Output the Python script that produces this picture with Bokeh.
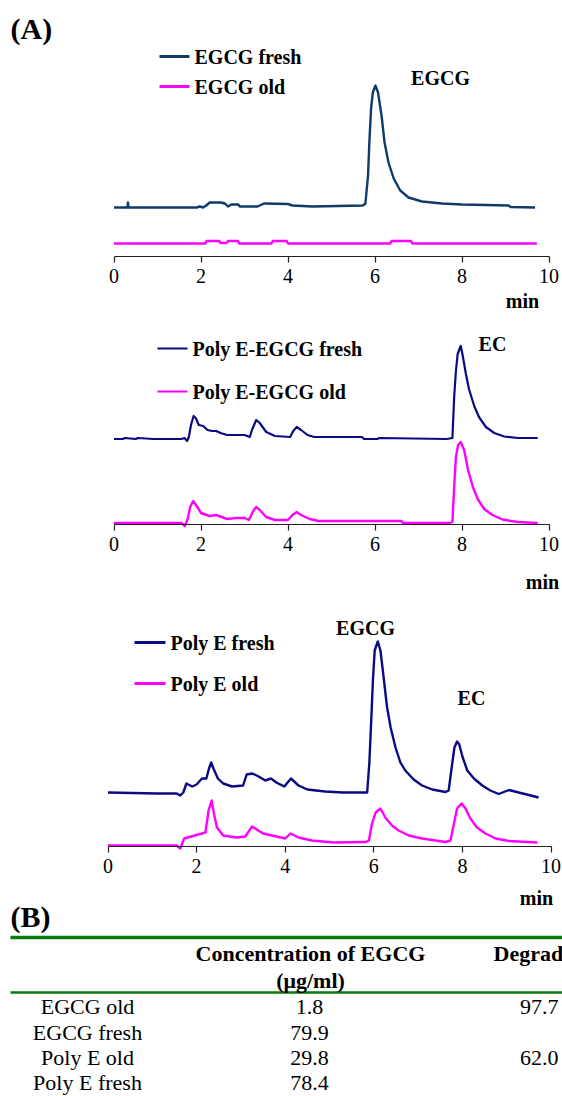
import numpy as np
from bokeh.plotting import figure
from bokeh.models import Range1d, LinearAxis, FixedTicker
from bokeh.core.properties import value
from bokeh.embed import file_html
from bokeh.resources import INLINE

# ---------------- data ----------------
ticks = [0, 2, 4, 6, 8, 10]

# Panel 1 : EGCG (signal above each trace's own baseline)
egcg_fresh_t = [0.0, 0.31, 0.32, 0.335, 1.9, 1.97, 2.05, 2.12, 2.2, 2.45,
                2.55, 2.62, 2.7, 2.85, 2.9, 3.3, 3.45, 4.0, 4.1, 4.55,
                5.72, 5.78, 5.84, 5.87, 5.91, 5.95, 6.01, 6.07, 6.15, 6.22,
                6.31, 6.43, 6.58, 6.77, 7.08, 7.54, 8.0, 9.07, 9.12, 9.68]
egcg_fresh_y = [0, 0, 5, 0, 0, 1, 0, 2, 5, 5,
                4, 1, 3, 3, 1, 1, 4, 3.5, 2, 1,
                2, 4, 32, 65, 99, 115, 122, 115, 92, 65,
                45, 29, 17, 10, 6, 4, 3, 2, 0.5, 0]
egcg_old_t = [0, 2.1, 2.13, 2.42, 2.45, 2.58, 2.62, 2.85, 2.88, 3.62, 3.65, 3.97, 4.0, 6.35, 6.38, 6.83, 6.86, 9.72]
egcg_old_y = [0, 0, 2.5, 2.5, 0.5, 0.5, 2.5, 2.5, 0, 0, 2.5, 2.5, 0, 0, 2.5, 2.5, 0, 0]

# Panel 2 : Poly E-EGCG
pee_fresh_t = [0, 0.2, 0.25, 0.5, 0.55, 0.9, 1.55, 1.62, 1.68, 1.72,
               1.77, 1.83, 1.88, 1.95, 2.05, 2.15, 2.25, 2.35, 2.45, 2.6,
               3.0, 3.12, 3.18, 3.27, 3.35, 3.5, 3.7, 4.05, 4.12, 4.2,
               4.3, 4.45, 4.6, 5.7, 5.75, 6.05, 6.1, 7.65, 7.78, 7.82,
               7.86, 7.9, 7.97, 8.01, 8.09, 8.16, 8.28, 8.39, 8.55, 8.74,
               8.97, 9.28, 9.74]
pee_fresh_y = [0, 0, 1, 0, 1, 0, 0, 1, -2, 2,
               14, 23, 21, 14, 13, 9, 8, 8, 6, 4,
               4, 2, 10, 19, 16, 7, 3, 2, 8, 12,
               9, 4, 2, 2, 0, 0, 1, 0, 1, 42,
               68, 85, 93, 85, 65, 50, 33, 22, 12, 6,
               2.5, 1, 1]
pee_old_t = [0, 1.55, 1.63, 1.7, 1.75, 1.82, 1.9, 2.0, 2.2, 2.35,
             2.6, 2.8, 3.0, 3.1, 3.2, 3.27, 3.35, 3.5, 3.7, 4.0,
             4.1, 4.2, 4.3, 4.5, 4.7, 6.6, 6.65, 7.72, 7.78, 7.82,
             7.86, 7.91, 7.97, 8.05, 8.14, 8.25, 8.36, 8.51, 8.7, 8.93,
             9.28, 9.74]
pee_old_y = [0, 0, -3, 5, 16, 22, 17, 10, 7, 8,
             4, 5, 5, 3, 12, 16, 13, 6, 3, 3,
             8, 11, 8, 4, 2, 2, 0, 0, 1, 36,
             66, 78, 81, 73, 53, 36, 24, 14, 8, 3.5,
             1, 0]

# Panel 3 : Poly E
pe_fresh_t = [0, 1.1, 1.55, 1.63, 1.7, 1.77, 1.9, 2.0, 2.12, 2.22,
              2.28, 2.33, 2.38, 2.48, 2.6, 2.8, 3.05, 3.13, 3.26, 3.4,
              3.55, 3.68, 3.8, 3.98, 4.13, 4.3, 4.5, 4.9, 5.3, 5.85,
              5.9, 5.95, 5.98, 6.02, 6.09, 6.15, 6.23, 6.3, 6.38, 6.49,
              6.6, 6.71, 6.9, 7.09, 7.32, 7.62, 7.69, 7.77, 7.82, 7.88,
              7.93, 8.0, 8.11, 8.26, 8.45, 8.63, 8.82, 9.05, 9.27, 9.5,
              9.72]
pe_fresh_y = [0, -1, -1, -3, 0, 9, 6, 8, 14, 14,
              24, 30, 24, 14, 9, 6, 7, 18, 19, 16,
              12, 14, 10, 6, 14, 7, 3, 1, 0, 0,
              30, 80, 112, 142, 151, 142, 112, 85, 65, 45,
              30, 22, 13, 7, 3, 0.5, 2, 29, 45, 51,
              48, 36, 22, 14, 7, 2, -1.5, 2.5, 0, -2.5,
              -5]
pe_old_t = [0, 1.55, 1.63, 1.72, 1.88, 2.12, 2.2, 2.27, 2.34, 2.4,
            2.46, 2.6, 2.9, 3.1, 3.25, 3.5, 3.8, 4.0, 4.12, 4.3,
            4.6, 5.1, 5.82, 5.89, 5.96, 6.04, 6.15, 6.26, 6.41, 6.56,
            6.79, 7.09, 7.62, 7.73, 7.81, 7.88, 7.98, 8.07, 8.18, 8.33,
            8.52, 8.75, 9.05, 9.69]
pe_old_y = [-2, -2, -5, 5, 7, 10, 11, 33, 43, 28,
            16, 8, 6, 7, 17, 10, 7, 5, 10, 6,
            3, 1, 1.5, 3, 20, 31, 35, 26, 18, 13,
            8, 5, 1.5, 3, 20, 35, 40, 35, 25, 16,
            10, 5, 2.5, 1]

# Table (B)
table_samples = ["EGCG old", "EGCG fresh", "Poly E old", "Poly E fresh"]
table_conc = ["1.8", "79.9", "29.8", "78.4"]
table_degr = ["97.7", "", "62.0", ""]
table_head = ["Concentration of EGCG", "(\u03bcg/ml)"]
table_head_degr = "Degrad"

# ---------------- styling / layout ----------------
W, H = 562, 1096
FONT = value("Liberation Serif")
NAVY1 = "#0E3B68"
NAVY = "#0A0A82"
PINK = "#FF00FF"
GREEN = "#0A7A0A"

p = figure(width=W, height=H, x_range=Range1d(0, W), y_range=Range1d(H, 0),
           output_backend="svg", toolbar_location=None, min_border=0,
           x_axis_location=None, y_axis_location=None)
p.outline_line_color = None
p.grid.visible = False
p.background_fill_color = "white"

# time ranges & signal ranges (one per panel)
X0_12, PX_12 = 113.5, 43.5
X0_3, PX_3 = 107.5, 44.3
p.extra_x_ranges = {
    "t12": Range1d(-X0_12 / PX_12, (W - X0_12) / PX_12),
    "t3": Range1d(-X0_3 / PX_3, (W - X0_3) / PX_3),
}
AX = {"s1": 256, "s2": 524, "s3": 846}
p.extra_y_ranges = {k: Range1d(-(H - v), v) for k, v in AX.items()}

def trace(t, y, off, xr, yr, color, lw):
    p.line(x=t, y=np.asarray(y, float) + off, x_range_name=xr, y_range_name=yr,
           line_color=color, line_width=lw, line_join="round")

trace(egcg_fresh_t, egcg_fresh_y, 49, "t12", "s1", NAVY1, 2.4)
trace(egcg_old_t, egcg_old_y, 13, "t12", "s1", PINK, 2.4)
trace(pee_fresh_t, pee_fresh_y, 85.5, "t12", "s2", NAVY, 2.2)
trace(pee_old_t, pee_old_y, 1.5, "t12", "s2", PINK, 2.4)
trace(pe_fresh_t, pe_fresh_y, 54, "t3", "s3", NAVY, 2.4)
trace(pe_old_t, pe_old_y, 3, "t3", "s3", PINK, 2.4)

for xr, yr in [("t12", "s1"), ("t12", "s2"), ("t3", "s3")]:
    ax = LinearAxis(x_range_name=xr, y_range_name=yr, fixed_location=0, bounds=(0, 10),
                    ticker=FixedTicker(ticks=ticks, minor_ticks=[]))
    ax.axis_line_color = "#222222"
    ax.axis_line_width = 1.2
    ax.major_tick_line_color = "#222222"
    ax.major_tick_line_width = 1.2
    ax.major_tick_out = 6
    ax.major_tick_in = 0
    ax.minor_tick_out = 0
    ax.minor_tick_in = 0
    ax.major_label_text_font = "Liberation Serif"
    ax.major_label_text_font_size = "20px"
    ax.major_label_text_color = "black"
    ax.major_label_standoff = 6
    p.add_layout(ax, "below")

# legends
leg = [
    (159, 189, 56, NAVY1, 3, "EGCG fresh"),
    (159, 189, 86, PINK, 3, "EGCG old"),
    (157, 187, 348, NAVY, 2, "Poly E-EGCG fresh"),
    (157, 187, 391, PINK, 2, "Poly E-EGCG old"),
    (134, 165, 642, NAVY, 3, "Poly E fresh"),
    (134, 165, 683, PINK, 3, "Poly E old"),
]
for x0, x1, y, c, lw, lab in leg:
    p.segment(x0=[x0], y0=[y], x1=[x1], y1=[y], line_color=c, line_width=lw)
p.text(x=[l[1] + 5 for l in leg], y=[l[2] for l in leg], text=[l[5] for l in leg],
       text_font=FONT, text_font_size="20px", text_font_style="bold",
       text_align="left", text_baseline="middle", text_color="black")

# peak labels and "min"
p.text(x=[440, 492, 365, 471], y=[77, 343, 627, 697], text=["EGCG", "EC", "EGCG", "EC"],
       text_font=FONT, text_font_size="20px", text_font_style="bold",
       text_align="center", text_baseline="middle", text_color="black")
p.text(x=[522, 542, 536], y=[300, 581, 897], text=["min", "min", "min"],
       text_font=FONT, text_font_size="20px", text_font_style="bold",
       text_align="center", text_baseline="middle", text_color="black")

# panel letters
p.text(x=[10, 10], y=[28, 916], text=["(A)", "(B)"], text_font=FONT, text_font_size="30px",
       text_font_style="bold", text_align="left", text_baseline="middle", text_color="black")

# table
p.segment(x0=[10], y0=[937], x1=[W], y1=[937], line_color=GREEN, line_width=3.5)
p.segment(x0=[10], y0=[992], x1=[W], y1=[992], line_color=GREEN, line_width=2.5)
p.text(x=[310, 310], y=[953, 980], text=table_head, text_font=FONT, text_font_size="22px",
       text_font_style="bold", text_align="center", text_baseline="middle", text_color="black")
p.text(x=[493], y=[953], text=[table_head_degr], text_font=FONT, text_font_size="22px",
       text_font_style="bold", text_align="left", text_baseline="middle", text_color="black")
row_y = [1006, 1032, 1057, 1082]
p.text(x=[87] * 4, y=row_y, text=table_samples, text_font=FONT, text_font_size="22px",
       text_align="center", text_baseline="middle", text_color="black")
p.text(x=[309] * 4, y=row_y, text=table_conc, text_font=FONT, text_font_size="22px",
       text_align="center", text_baseline="middle", text_color="black")
p.text(x=[558] * 4, y=row_y, text=table_degr, text_font=FONT, text_font_size="22px",
       text_align="right", text_baseline="middle", text_color="black")

open("out.html", "w").write(file_html(p, INLINE))
